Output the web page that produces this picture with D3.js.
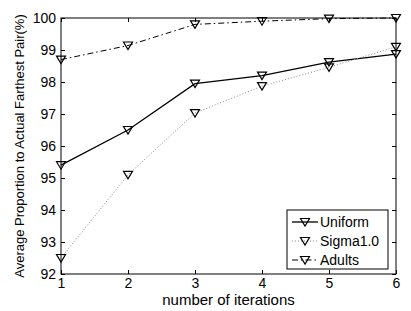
<!DOCTYPE html>
<html>
<head>
<meta charset="utf-8">
<script src="https://cdn.jsdelivr.net/npm/d3@7"></script>
<style>
  body { margin: 0; background: #fff; }
  svg text { font-family: "Liberation Sans", Arial, sans-serif; }
</style>
</head>
<body>
<svg id="chart" width="411" height="311"></svg>
<script>
var iterations = [1, 2, 3, 4, 5, 6];
var uniform = [95.4, 96.5, 97.95, 98.2, 98.62, 98.87];
var sigma = [92.5, 95.1, 97.03, 97.87, 98.46, 99.1];
var adults = [98.7, 99.14, 99.8, 99.9, 99.98, 100];
var yTicks = [92, 93, 94, 95, 96, 97, 98, 99, 100];

var margin = { top: 18, right: 15, bottom: 37, left: 61 },
    width = 411 - margin.left - margin.right,
    height = 311 - margin.top - margin.bottom;

var svg = d3.select("#chart").append("g")
    .attr("transform", "translate(" + margin.left + "," + margin.top + ")");

var x = d3.scaleLinear().domain([1, 6]).range([0, width]);
var y = d3.scaleLinear().domain([92, 100]).range([height, 0]);

// box with inward ticks (matlab style)
svg.append("rect")
    .attr("width", width)
    .attr("height", height)
    .style("fill", "none")
    .style("stroke", "#000")
    .style("stroke-width", 1);

var tickLen = 4;

var xAxis = svg.append("g")
    .attr("transform", "translate(0," + height + ")")
    .call(d3.axisBottom(x).tickValues(iterations).tickFormat(d3.format("d"))
        .tickSizeInner(-tickLen).tickSizeOuter(0).tickPadding(4));
var xTop = svg.append("g")
    .call(d3.axisTop(x).tickValues(iterations).tickSizeInner(-tickLen).tickSizeOuter(0).tickFormat(""));
var yAxis = svg.append("g")
    .call(d3.axisLeft(y).tickValues(yTicks).tickSizeInner(-tickLen).tickSizeOuter(0).tickPadding(5));
var yRight = svg.append("g")
    .attr("transform", "translate(" + width + ",0)")
    .call(d3.axisRight(y).tickValues(yTicks).tickSizeInner(-tickLen).tickSizeOuter(0).tickFormat(""));

[xAxis, xTop, yAxis, yRight].forEach(function(a) {
    a.select(".domain").remove();
    a.selectAll("line").style("stroke", "#000");
    a.selectAll("text").style("font-size", "14px").style("fill", "#000");
});

svg.append("text")
    .attr("x", width / 2)
    .attr("y", height + 31)
    .attr("text-anchor", "middle")
    .style("font-size", "15px")
    .text("number of iterations");

svg.append("text")
    .attr("transform", "rotate(-90)")
    .attr("x", -height / 2)
    .attr("y", -37)
    .attr("text-anchor", "middle")
    .style("font-size", "13px")
    .text("Average Proportion to Actual Farthest Pair(%)");

var tri = "M-4.5,-3.5L4.5,-3.5L0,4Z";

var series = [
    { name: "Uniform", values: uniform, color: "#000", dash: null, width: 1.3 },
    { name: "Sigma1.0", values: sigma, color: "#888", dash: "1,2", width: 1 },
    { name: "Adults", values: adults, color: "#000", dash: "6,3,1.5,3", width: 1 }
];

var line = d3.line()
    .x(function(d, i) { return x(iterations[i]); })
    .y(function(d) { return y(d); });

series.forEach(function(s) {
    svg.append("path")
        .datum(s.values)
        .attr("d", line)
        .style("fill", "none")
        .style("stroke", s.color)
        .style("stroke-width", s.width)
        .style("stroke-dasharray", s.dash);

    svg.selectAll(null)
        .data(s.values)
        .enter().append("path")
        .attr("d", tri)
        .attr("transform", function(d, i) { return "translate(" + x(iterations[i]) + "," + y(d) + ")"; })
        .style("fill", "none")
        .style("stroke", "#000")
        .style("stroke-width", 1.2);
});

// legend
var legend = svg.append("g")
    .attr("transform", "translate(" + (287 - margin.left) + "," + (210 - margin.top) + ")");

legend.append("rect")
    .attr("width", 101)
    .attr("height", 59)
    .style("fill", "#fff")
    .style("stroke", "#000")
    .style("stroke-width", 1);

series.forEach(function(s, i) {
    var ly = 12 + i * 19;
    legend.append("line")
        .attr("x1", 5).attr("x2", 31)
        .attr("y1", ly).attr("y2", ly)
        .style("stroke", s.color)
        .style("stroke-width", s.width)
        .style("stroke-dasharray", s.dash);
    legend.append("path")
        .attr("d", tri)
        .attr("transform", "translate(18," + ly + ")")
        .style("fill", "none")
        .style("stroke", "#000")
        .style("stroke-width", 1.2);
    legend.append("text")
        .attr("x", 33)
        .attr("y", ly)
        .attr("dy", "0.35em")
        .style("font-size", "14px")
        .text(s.name);
});
</script>
</body>
</html>
